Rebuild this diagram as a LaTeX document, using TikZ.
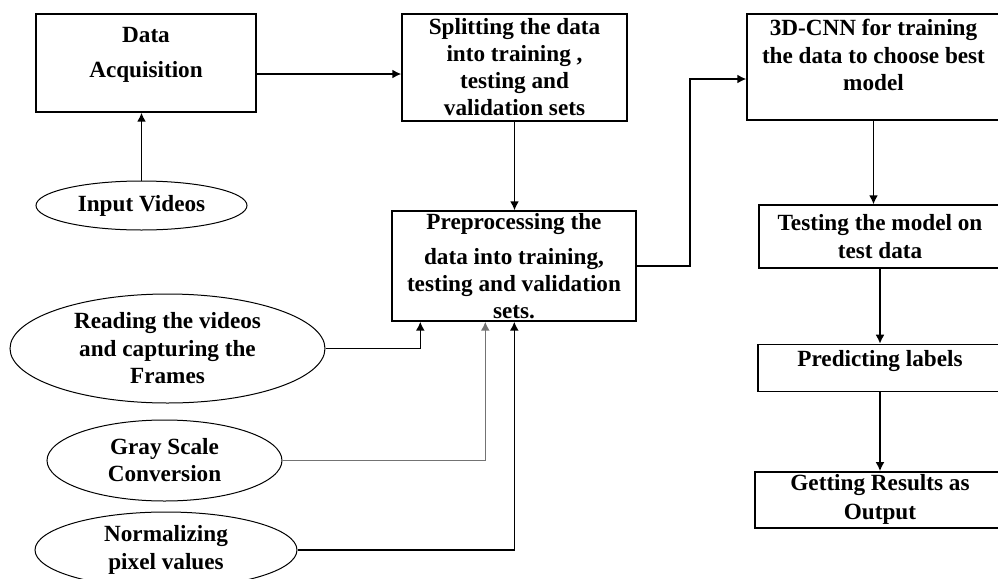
\documentclass[tikz,border=0pt]{standalone}
\usepackage{fontspec}
\setmainfont{Liberation Serif}
\usetikzlibrary{arrows.meta, positioning, shapes.geometric}
\newcommand{\pushup}[1]{\rule[-#1]{0pt}{#1}}
\tikzset{box/.style={rectangle,draw,line width=0.7pt,align=center,inner xsep=2pt,inner ysep=0.5pt,font=\bfseries\fontsize{11.6}{13.5}\selectfont},oval/.style={ellipse,draw,line width=0.5pt,align=center,inner sep=-4pt,font=\bfseries\fontsize{11.6}{13.5}\selectfont},line/.style={-{Latex[length=4.5pt,width=4.5pt]},line width=0.8pt}}

\begin{document}
\begin{tikzpicture}[x=0.5pt,y=-0.5pt]
\useasboundingbox (0,0) rectangle (998,579);
\node[box, minimum width=110pt, minimum height=49pt] (acq) at (146,63) {Data\\[4pt]Acquisition\pushup{10.5pt}};
\node[oval, minimum width=105.5pt, minimum height=24.5pt] (videos) at (141.5,205.5) {Input Videos};
\node[box, minimum width=112.5pt, minimum height=53.5pt] (split) at (514.5,67.5) {Splitting the data\\into training ,\\testing and\\validation sets};
\node[box, minimum width=122pt, minimum height=55pt] (prep) at (514,266) {Preprocessing the\\[4pt]data into training,\\testing and validation\\sets.};
\node[box, minimum width=126.5pt, minimum height=53pt] (cnn) at (873.5,67) {3D-CNN for training\\[0.25pt]the data to choose best\\[0.25pt]model\pushup{12pt}};
\node[box, minimum width=121pt, minimum height=31.5pt] (test) at (880,236.5) {Testing the model on\\[0.5pt]test data};
\node[box, minimum width=122pt, minimum height=23.5pt, below=37.5pt of test] (pred) {Predicting labels\pushup{9pt}};
\node[box, minimum width=125pt, minimum height=28pt, below=39.5pt of pred] (get) {Getting Results as\\[1pt]Output};
\node[oval, minimum width=157.5pt, minimum height=54.5pt] (reading) at (167.5,348.5) {Reading the videos\\[0.25pt]and capturing the\\[0.25pt]Frames};
\node[oval, minimum width=117.5pt, minimum height=40.5pt] (gray) at (164.5,460.5) {Gray Scale\\Conversion};
\node[oval, minimum width=131pt, minimum height=38pt] (norm) at (166,550) {Normalizing\\[0.5pt]pixel values};

\draw[line] (videos.north) -- (videos.north |- acq.south);
\coordinate (acqout) at ([yshift=-5.5pt]acq.east);
\draw[line] (acqout) -- (acqout -| split.west);
\draw[line] (split.south) -- (split.south |- prep.north);
\coordinate (bend) at (690,79);
\draw[line] (prep.east) -| (bend) -- (bend -| cnn.west);
\draw[line] (cnn.south) -- (cnn.south |- test.north);
\draw[line] (test.south) -- (test.south |- pred.north);
\draw[line] (pred.south) -- (pred.south |- get.north);
\draw[line] (reading.east) -| ([xshift=14.5pt]prep.south west);
\draw[line, black!55] (gray.east) -| ([xshift=47pt]prep.south west);
\draw[line] (norm.east) -| ([xshift=61.5pt]prep.south west);
\end{tikzpicture}
\end{document}
